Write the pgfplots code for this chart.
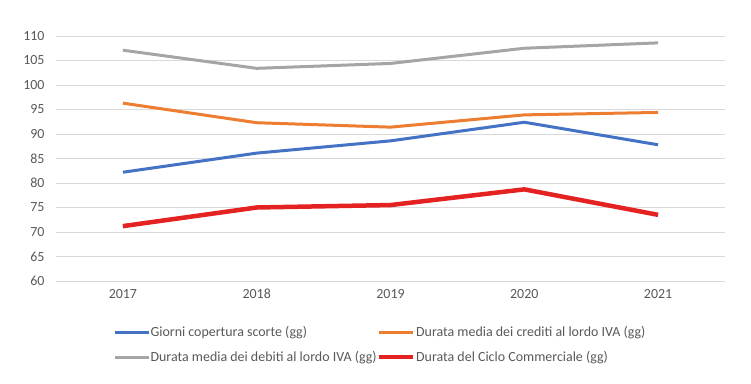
\documentclass[border=0pt]{standalone}
\usepackage{fontspec}
\setmainfont{Carlito}
\usepackage{pgfplots}
\pgfplotsset{compat=1.18}
\definecolor{cblue}{HTML}{4472C4}
\definecolor{corange}{HTML}{ED7D31}
\definecolor{cgrey}{HTML}{A5A5A5}
\definecolor{cred}{HTML}{E52222}
\definecolor{ctext}{HTML}{595959}
\definecolor{cgrid}{HTML}{D9D9D9}
\begin{document}
\begin{tikzpicture}
\path[use as bounding box] (-56bp,-103bp) rectangle (695bp,281bp);
\begin{axis}[
  at={(0,0)}, anchor=south west,
  scale only axis, width=669bp, height=245bp,
  xmin=2016.5, xmax=2021.5, ymin=60, ymax=110,
  xtick={2017,2018,2019,2020,2021},
  ytick={60,65,...,110},
  xticklabel style={/pgf/number format/1000 sep={}},
  /pgf/number format/assume math mode=true,
  ticklabel style={font=\fontsize{14}{16}\selectfont, text=ctext},
  xticklabel style={text height=9bp, text depth=0bp, anchor=north, yshift=-5bp},
  yticklabel style={xshift=-8bp},
  axis line style={draw=none},
  major tick length=0pt,
  ymajorgrids, grid style={cgrid, line width=0.8bp},
  legend columns=2,
  legend cell align=left,
  legend style={at={(0.085,-0.177)}, anchor=north west, draw=none,
    font=\fontsize{14}{16}\selectfont, text=ctext,
    nodes={inner xsep=0.5bp},
    /tikz/every even column/.append style={column sep=0bp},
    row sep=9bp, inner sep=0pt},
  legend image code/.code={\draw[#1, line cap=butt] (0bp,0bp) -- (34bp,0bp);},
]
\addplot[cblue, line width=3bp] coordinates {(2017,82.2) (2018,86.1) (2019,88.6) (2020,92.4) (2021,87.8)};
\addlegendentry{Giorni copertura scorte (gg)}
\addplot[corange, line width=3bp] coordinates {(2017,96.3) (2018,92.3) (2019,91.4) (2020,93.9) (2021,94.4)};
\addlegendentry{Durata media dei crediti al lordo IVA (gg)}
\addplot[cgrey, line width=3bp] coordinates {(2017,107.1) (2018,103.4) (2019,104.4) (2020,107.5) (2021,108.6)};
\addlegendentry{Durata media dei debiti al lordo IVA (gg)}
\addplot[cred, line width=4.5bp] coordinates {(2017,71.2) (2018,75.0) (2019,75.5) (2020,78.7) (2021,73.5)};
\addlegendentry{Durata del Ciclo Commerciale (gg)}
\end{axis}
\end{tikzpicture}
\end{document}
